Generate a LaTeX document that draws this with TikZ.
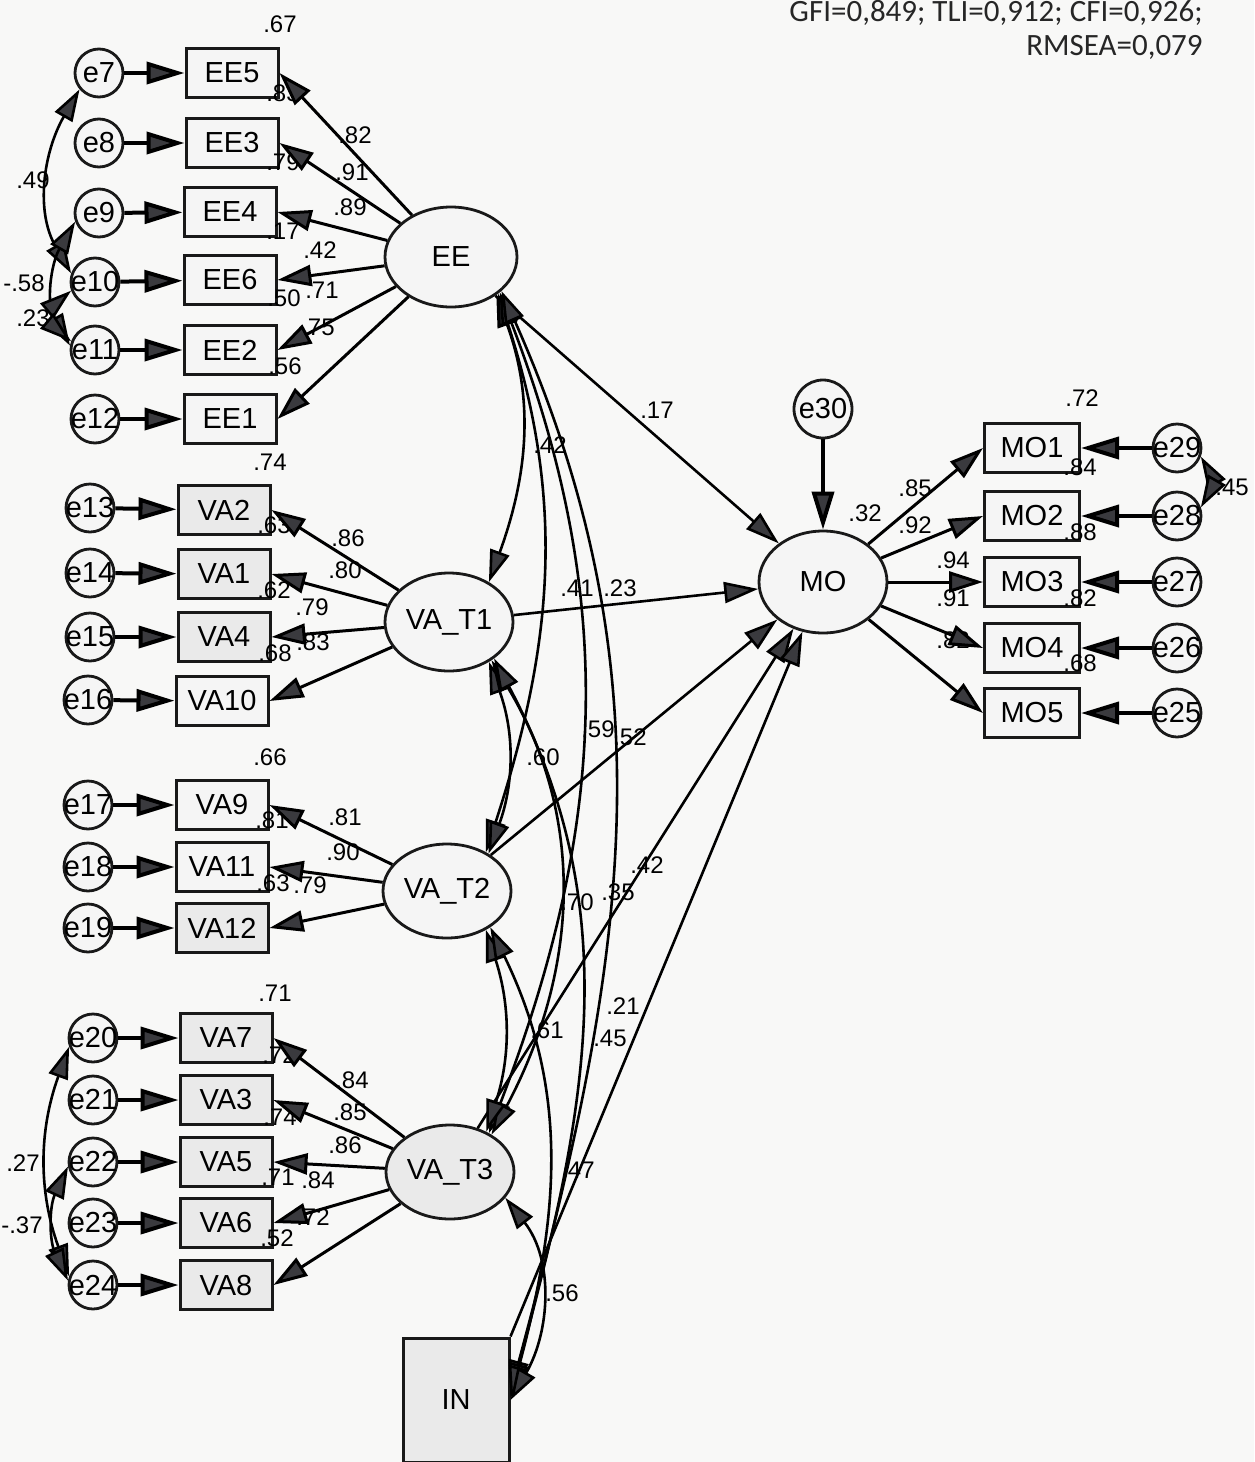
\documentclass[tikz,border=0pt]{standalone}
\usepackage{fontspec}
\setmainfont{Liberation Sans}
\newfontfamily\fitfont{Carlito}
\usepackage{tikz}
\usetikzlibrary{arrows.meta,shapes.geometric}

\definecolor{paper}{RGB}{248,248,247}
\definecolor{tipgray}{RGB}{58,58,62}
\definecolor{boxfill}{RGB}{245,245,245}
\definecolor{boxshade}{RGB}{234,234,234}

\begin{document}
\begin{tikzpicture}[
  x=0.5pt, y=-0.5pt,
  font=\fontsize{14.5}{16}\selectfont,
  % ---- node styles ----
  obsbox/.style={
    draw=black!90, line width=1.5pt, fill=boxfill,
    minimum width=46pt, minimum height=24.5pt, inner sep=0pt
  },
  obsshade/.style={obsbox, fill=boxshade},
  errc/.style={
    circle, draw=black!90, line width=1.4pt, fill=boxfill,
    minimum size=24pt, inner sep=0pt,
    execute at begin node={\hbox to 0pt\bgroup\hss},
    execute at end node={\hss\egroup}
  },
  latent/.style={
    ellipse, draw=black!90, line width=1.4pt, fill=boxfill,
    minimum width=64pt, minimum height=49pt, inner sep=0pt
  },
  coef/.style={font=\fontsize{12}{13}\selectfont, inner sep=0pt},
  fitline/.style={font=\fitfont\fontsize{15.5}{18}\selectfont, text=black!85, anchor=base east, inner sep=0pt},
  % ---- connector styles ----
  errpath/.style={line width=2pt, -{Triangle[length=19pt,width=11pt,fill=tipgray]}},
  loadpath/.style={line width=1.5pt, -{Triangle[length=17pt,width=10.5pt,fill=tipgray]}},
  covarc/.style={line width=1.3pt,
    {Triangle[length=16pt,width=10pt,fill=tipgray]}-{Triangle[length=16pt,width=10pt,fill=tipgray]}},
]

\fill[paper] (0,0) rectangle (1254,1462);
\useasboundingbox (0,0) rectangle (1254,1462);

% ---- fit indices ----
\node[fitline] (fit1) at (1203,21) {GFI=0,849; TLI=0,912; CFI=0,926;};
\node[fitline] (fit2) at (1203,55) {RMSEA=0,079};

% ---- EE block ----
\node[errc] (e7)  at (99,73)  {e7};
\node[errc] (e8)  at (99,143) {e8};
\node[errc] (e9)  at (99,213) {e9};
\node[errc] (e10) at (95,282) {e10};
\node[errc] (e11) at (95,350) {e11};
\node[errc] (e12) at (95,419) {e12};
\node[obsbox] (EE5) at (232,73)  {EE5};
\node[obsbox] (EE3) at (232,143) {EE3};
\node[obsbox] (EE4) at (230,212) {EE4};
\node[obsbox] (EE6) at (230,280) {EE6};
\node[obsbox] (EE2) at (230,350) {EE2};
\node[obsbox] (EE1) at (230,419) {EE1};
\node[latent, minimum width=66pt, minimum height=50pt] (EE) at (451,257) {EE};

% ---- VA_T1 block ----
\node[errc] (e13) at (90,508) {e13};
\node[errc] (e14) at (90,573) {e14};
\node[errc] (e15) at (90,637) {e15};
\node[errc] (e16) at (88,700) {e16};
\node[obsshade] (VA2)  at (224,510) {VA2};
\node[obsshade] (VA1)  at (224,574) {VA1};
\node[obsshade] (VA4)  at (224,637) {VA4};
\node[obsbox]   (VA10) at (222,701) {VA10};
\node[latent] (VAT1) at (449,622) {VA\_T1};

% ---- VA_T2 block ----
\node[errc] (e17) at (88,805) {e17};
\node[errc] (e18) at (88,867) {e18};
\node[errc] (e19) at (88,928) {e19};
\node[obsbox]   (VA9)  at (222,805) {VA9};
\node[obsbox]   (VA11) at (222,867) {VA11};
\node[obsshade] (VA12) at (222,928) {VA12};
\node[latent, minimum height=47pt] (VAT2) at (447,891) {VA\_T2};

% ---- VA_T3 block ----
\node[errc] (e20) at (93,1038) {e20};
\node[errc] (e21) at (93,1100) {e21};
\node[errc] (e22) at (93,1162) {e22};
\node[errc] (e23) at (93,1223) {e23};
\node[errc] (e24) at (93,1285) {e24};
\node[obsshade] (VA7) at (226,1038) {VA7};
\node[obsshade] (VA3) at (226,1100) {VA3};
\node[obsshade] (VA5) at (226,1162) {VA5};
\node[obsshade] (VA6) at (226,1223) {VA6};
\node[obsshade] (VA8) at (226,1285) {VA8};
\node[latent, fill=boxshade, minimum height=47pt] (VAT3) at (450,1172) {VA\_T3};

% ---- IN ----
\node[obsshade, minimum width=53pt, minimum height=62pt] (IN) at (456,1400) {IN};

% ---- MO block ----
\node[errc, minimum size=29pt] (e30) at (823,409) {e30};
\node[latent, minimum width=64pt, minimum height=51pt] (MO) at (823,582) {MO};
\node[obsbox, minimum width=47.5pt] (MO1) at (1032,448) {MO1};
\node[obsbox, minimum width=47.5pt] (MO2) at (1032,516) {MO2};
\node[obsbox, minimum width=47.5pt] (MO3) at (1032,582) {MO3};
\node[obsbox, minimum width=47.5pt] (MO4) at (1032,648) {MO4};
\node[obsbox, minimum width=47.5pt] (MO5) at (1032,713) {MO5};
\node[errc] (e29) at (1177,448) {e29};
\node[errc] (e28) at (1177,516) {e28};
\node[errc] (e27) at (1177,582) {e27};
\node[errc] (e26) at (1177,648) {e26};
\node[errc] (e25) at (1177,713) {e25};

% ---- estimates, EE block ----
\node[coef] (sqEE5) at (280,24)  {.67};
\node[coef] (sqEE3) at (283,93)  {.83};
\node[coef] (sqEE4) at (283,162) {.79};
\node[coef] (sqEE6) at (283,231) {.17};
\node[coef] (sqEE2) at (284,298) {.50};
\node[coef] (sqEE1) at (285,366) {.56};
\node[coef] (ldEE5) at (355,135) {.82};
\node[coef] (ldEE3) at (352,172) {.91};
\node[coef] (ldEE4) at (350,207) {.89};
\node[coef] (ldEE6) at (320,250) {.42};
\node[coef] (ldEE2) at (322,290) {.71};
\node[coef] (ldEE1) at (318,327) {.75};
\node[coef] (cvA) at (33,180) {.49};
\node[coef] (cvB) at (24,283) {-.58};
\node[coef] (cvC) at (33,318) {.23};

% ---- estimates, VA_T1 / VA_T2 / VA_T3 ----
\node[coef] (sqVA2)  at (270,462) {.74};
\node[coef] (sqVA1)  at (274,525) {.63};
\node[coef] (sqVA4)  at (274,590) {.62};
\node[coef] (sqVA10) at (275,653) {.68};
\node[coef] (ldVA2)  at (348,538) {.86};
\node[coef] (ldVA1)  at (345,570) {.80};
\node[coef] (ldVA4)  at (312,607) {.79};
\node[coef] (ldVA10) at (313,642) {.83};
\node[coef] (sqVA9)  at (270,757) {.66};
\node[coef] (sqVA11) at (272,820) {.81};
\node[coef] (sqVA12) at (273,883) {.63};
\node[coef] (ldVA9)  at (345,817) {.81};
\node[coef] (ldVA11) at (343,852) {.90};
\node[coef] (ldVA12) at (310,885) {.79};
\node[coef] (sqVA7) at (275,993)  {.71};
\node[coef] (sqVA3) at (279,1055) {.72};
\node[coef] (sqVA5) at (280,1117) {.74};
\node[coef] (sqVA6) at (278,1177) {.71};
\node[coef] (sqVA8) at (277,1238) {.52};
\node[coef] (ldVA7) at (352,1080) {.84};
\node[coef] (ldVA3) at (350,1112) {.85};
\node[coef] (ldVA5) at (345,1145) {.86};
\node[coef] (ldVA6) at (318,1180) {.84};
\node[coef] (ldVA8) at (313,1217) {.72};
\node[coef] (cvD) at (23,1163) {.27};
\node[coef] (cvE) at (22,1225) {-.37};

% ---- estimates, structural part ----
\node[coef] (pcEE)   at (657,410)  {.17};
\node[coef] (crA)    at (550,445)  {.42};
\node[coef] (crB)    at (577,588)  {.41};
\node[coef] (pcVAT1) at (620,588)  {.23};
\node[coef] (crC)    at (598,729)  {.59};
\node[coef] (pcVAT2) at (630,737)  {.52};
\node[coef] (crD)    at (543,757)  {.60};
\node[coef] (crE)    at (577,902)  {.70};
\node[coef] (crF)    at (618,892)  {.35};
\node[coef] (pcVAT3) at (647,865)  {.42};
\node[coef] (pcIN)   at (623,1006) {.21};
\node[coef] (crG)    at (547,1030) {.61};
\node[coef] (crH)    at (610,1038) {.45};
\node[coef] (crI)    at (578,1170) {.47};
\node[coef] (crJ)    at (562,1293) {.56};

% ---- estimates, MO block ----
\node[coef] (sqMO) at (865,513) {.32};
\node[coef] (sqMO1) at (1082,398) {.72};
\node[coef] (sqMO2) at (1080,467) {.84};
\node[coef] (sqMO3) at (1080,532) {.88};
\node[coef] (sqMO4) at (1080,598) {.82};
\node[coef] (sqMO5) at (1080,663) {.68};
\node[coef] (ldMO1) at (915,488) {.85};
\node[coef] (ldMO2) at (915,525) {.92};
\node[coef] (ldMO3) at (953,560) {.94};
\node[coef] (ldMO4) at (953,598) {.91};
\node[coef] (ldMO5) at (953,640) {.82};
\node[coef] (cvF) at (1232,487) {.45};

% ---- error terms -> indicators ----
\draw[errpath] (e7)  -- (EE5);
\draw[errpath] (e8)  -- (EE3);
\draw[errpath] (e9)  -- (EE4);
\draw[errpath] (e10) -- (EE6);
\draw[errpath] (e11) -- (EE2);
\draw[errpath] (e12) -- (EE1);
\draw[errpath] (e13) -- (VA2);
\draw[errpath] (e14) -- (VA1);
\draw[errpath] (e15) -- (VA4);
\draw[errpath] (e16) -- (VA10);
\draw[errpath] (e17) -- (VA9);
\draw[errpath] (e18) -- (VA11);
\draw[errpath] (e19) -- (VA12);
\draw[errpath] (e20) -- (VA7);
\draw[errpath] (e21) -- (VA3);
\draw[errpath] (e22) -- (VA5);
\draw[errpath] (e23) -- (VA6);
\draw[errpath] (e24) -- (VA8);
\draw[errpath] (e29) -- (MO1);
\draw[errpath] (e28) -- (MO2);
\draw[errpath] (e27) -- (MO3);
\draw[errpath] (e26) -- (MO4);
\draw[errpath] (e25) -- (MO5);
\draw[errpath] (e30) -- (MO);

% ---- loadings ----
\draw[loadpath] (EE) -- (EE5.east);
\draw[loadpath] (EE) -- (EE3.east);
\draw[loadpath] (EE) -- (EE4.east);
\draw[loadpath] (EE) -- (EE6.east);
\draw[loadpath] (EE) -- (EE2.east);
\draw[loadpath] (EE) -- (EE1.east);
\draw[loadpath] (VAT1) -- (VA2.east);
\draw[loadpath] (VAT1) -- (VA1.east);
\draw[loadpath] (VAT1) -- (VA4.east);
\draw[loadpath] (VAT1) -- (VA10.east);
\draw[loadpath] (VAT2) -- (VA9.east);
\draw[loadpath] (VAT2) -- (VA11.east);
\draw[loadpath] (VAT2) -- (VA12.east);
\draw[loadpath] (VAT3) -- (VA7.east);
\draw[loadpath] (VAT3) -- (VA3.east);
\draw[loadpath] (VAT3) -- (VA5.east);
\draw[loadpath] (VAT3) -- (VA6.east);
\draw[loadpath] (VAT3) -- (VA8.east);
\draw[loadpath] (MO) -- (MO1.west);
\draw[loadpath] (MO) -- (MO2.west);
\draw[loadpath] (MO) -- (MO3.west);
\draw[loadpath] (MO) -- (MO4.west);
\draw[loadpath] (MO) -- (MO5.west);

% ---- paths to MO ----
\draw[loadpath, line width=1.3pt] (EE) -- (MO);
\draw[loadpath, line width=1.3pt] (VAT1) -- (MO);
\draw[loadpath, line width=1.3pt] (VAT2) -- (MO);
\draw[loadpath, line width=1.3pt] (VAT3) -- (MO);
\draw[loadpath, line width=1.3pt] (IN.north east) -- (MO);

% ---- correlations among exogenous ----
\draw[covarc] (EE.-40) to[out=-70, in=70] (VAT1.45);
\draw[covarc] (EE.-38) to[out=-72, in=72] (VAT2.45);
\draw[covarc] (EE.-36) to[out=-69, in=69] (VAT3.45);
\draw[covarc] (EE.-34) to[out=-66, in=75] (IN.8);
\draw[covarc] (VAT1.-45) to[out=-70, in=70] (VAT2.42);
\draw[covarc] (VAT1.-42) to[out=-59, in=62] (VAT3.42);
\draw[covarc] (VAT1.-39) to[out=-62, in=75] (IN.5);
\draw[covarc] (VAT2.-45) to[out=-72, in=72] (VAT3.48);
\draw[covarc] (VAT2.-40) to[out=-64, in=75] (IN.2);
\draw[covarc] (VAT3.-25) to[out=-52, in=60] (IN.0);

% ---- error covariances ----
\draw[covarc] (e7.220)  to[out=240, in=120] (e10.160);
\draw[covarc] (e9.200)  to[out=240, in=120] (e11.170);
\draw[covarc] (e10.200) to[out=220, in=140] (e11.160);
\draw[covarc] (e20.200) to[out=250, in=110] (e24.160);
\draw[covarc] (e22.190) to[out=245, in=115] (e24.170);
\draw[covarc] (e29.-20) to[out=-60, in=60] (e28.20);

\end{tikzpicture}
\end{document}
